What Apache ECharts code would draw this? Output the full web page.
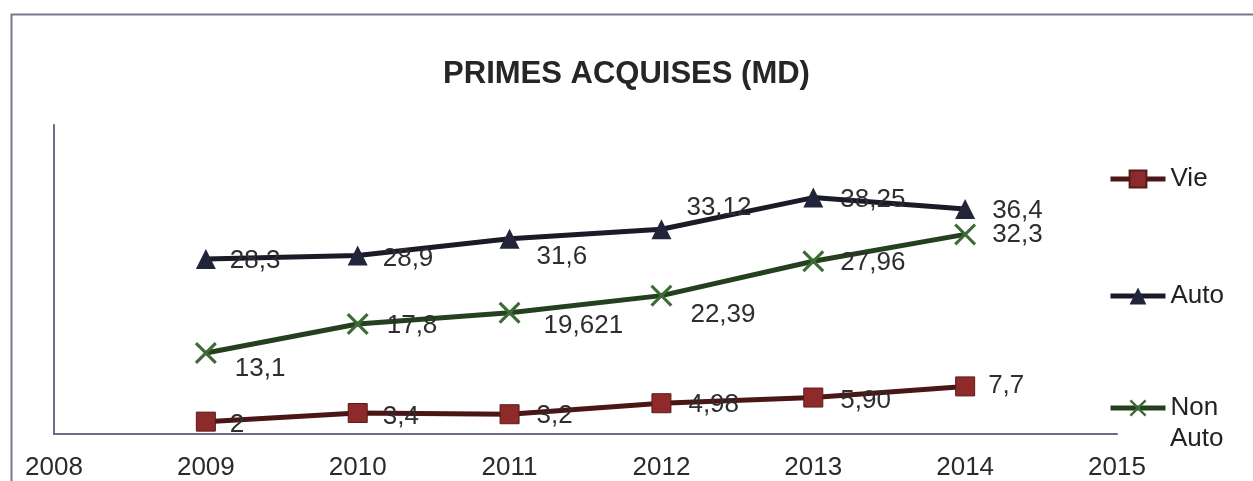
<!DOCTYPE html>
<html>
<head>
<meta charset="utf-8">
<script src="https://cdn.jsdelivr.net/npm/echarts@6/dist/echarts.min.js"></script>
<style>
html,body{margin:0;padding:0;background:#fff;}
#main{width:1253px;height:481px;}
</style>
</head>
<body>
<div id="main"></div>
<script>
// données (MD)
var years      = [2009, 2010, 2011, 2012, 2013, 2014];
var vie        = [2, 3.4, 3.2, 4.98, 5.90, 7.7];
var auto       = [28.3, 28.9, 31.6, 33.12, 38.25, 36.4];
var nonAuto    = [13.1, 17.8, 19.621, 22.39, 27.96, 32.3];
var vieTxt     = ['2', '3,4', '3,2', '4,98', '5,90', '7,7'];
var autoTxt    = ['28,3', '28,9', '31,6', '33,12', '38,25', '36,4'];
var nonAutoTxt = ['13,1', '17,8', '19,621', '22,39', '27,96', '32,3'];

// décalage des étiquettes (comme dans le graphique Excel)
var autoNudge    = [[-3,2],[-2,3],[0,18],[-2,-21],[0,2],[0,2]];
var nonAutoNudge = [[1,16],[1,2],[6,13],[1,19],[-1,2],[-1,0]];
var vieNudge     = [[-3,3],[-2,4],[0,2],[0,2],[0,3],[-4,-1]];

var chart = echarts.init(document.getElementById('main'));

function build(vals, txt, nudge) {
	var out = [];
	for (var i=0;i<years.length;++i) {
		out.push({
			value : [years[i], vals[i]],
			label : {formatter: txt[i], offset: nudge[i]}
		});
	}
	return out;
}

var crossPath = 'path://M0,1L1,0L5,4L9,0L10,1L6,5L10,9L9,10L5,6L1,10L0,9L4,5Z';
var labelStyle = {show:true, position:'right', distance:17, fontSize:26, color:'#2e2e2e', fontFamily:'Liberation Sans'};
var legendText = {fontSize:26, color:'#222', fontFamily:'Liberation Sans'};
var legendBase = {orient:'vertical', left:1108, padding:0, itemWidth:55, itemHeight:21, itemGap:0,
	textStyle:legendText, lineStyle:{width:5}};

function legendAt(name, top, extra) {
	var l = {data:[name], top:top};
	for (var k in legendBase) l[k] = legendBase[k];
	for (var k in (extra||{})) l[k] = extra[k];
	return l;
}

var option = {
	animation : false,
	title : {
		text : 'PRIMES ACQUISES (MD)',
		left : 'center',
		top  : 54,
		textStyle : {fontSize:31, fontWeight:'bold', color:'#262626', fontFamily:'Liberation Sans'}
	},
	grid : {left:54, right:136, top:125, bottom:46},
	xAxis : {
		type : 'value', min:2008, max:2015, interval:1,
		axisLine  : {lineStyle:{color:'#6e6a8a', width:2}},
		axisTick  : {show:false},
		splitLine : {show:false},
		axisLabel : {fontSize:26, color:'#2a2a2a', margin:21, fontFamily:'Liberation Sans',
			formatter:function(v){return String(v);}}
	},
	yAxis : {
		type : 'value', min:0, max:50,
		axisLine  : {show:true, lineStyle:{color:'#6e6a8a', width:2}},
		axisTick  : {show:false},
		axisLabel : {show:false},
		splitLine : {show:false}
	},
	legend : [
		legendAt('Vie', 166),
		legendAt('Auto', 283),
		legendAt('Non Auto', 395, {formatter:function(){return 'Non';}})
	],
	graphic : [
		{type:'rect', left:9, top:12, shape:{width:1300, height:500}, style:{fill:null, stroke:'#7a7694', lineWidth:2}, silent:true},
		{type:'text', left:1170, top:426, style:{text:'Auto', fontSize:26, fill:'#222', fontFamily:'Liberation Sans'}}
	],
	series : [
		{
			name:'Vie', type:'line', data:build(vie, vieTxt, vieNudge),
			symbol:'rect', symbolSize:19,
			lineStyle:{color:'#4a1616', width:5},
			itemStyle:{color:'#8e2a2a', borderColor:'#5a1a1a', borderWidth:1},
			label:labelStyle, z:3
		},
		{
			name:'Auto', type:'line', data:build(auto, autoTxt, autoNudge),
			symbol:'triangle', symbolSize:20,
			lineStyle:{color:'#1b1b27', width:5},
			itemStyle:{color:'#22243a'},
			label:labelStyle, z:3
		},
		{
			name:'Non Auto', type:'line', data:build(nonAuto, nonAutoTxt, nonAutoNudge),
			symbol:crossPath, symbolSize:22,
			lineStyle:{color:'#24401f', width:5},
			itemStyle:{color:'#3d6b36'},
			label:labelStyle, z:3
		}
	]
};
chart.setOption(option);
</script>
</body>
</html>
